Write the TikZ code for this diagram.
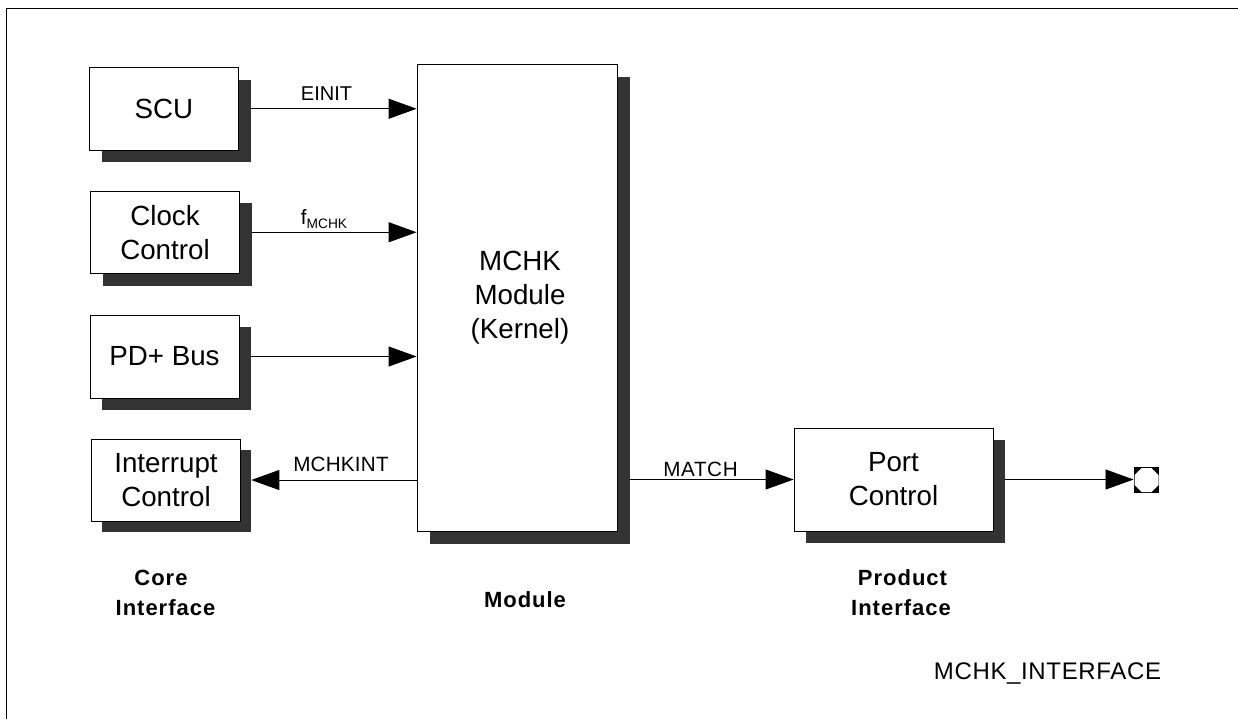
\documentclass[tikz,border=0pt]{standalone}
\usepackage{fontspec}
\setmainfont{Liberation Sans}
\usetikzlibrary{arrows.meta,calc,shapes.geometric}
\tikzset{
  x=0.75pt,y=-0.75pt,
  boxnode/.style={draw=black,fill=white,line width=0.6pt,align=center,inner sep=0pt,font=\fontsize{20.8}{25.5}\selectfont},
  shadownode/.style={fill=black!80,draw=none,inner sep=0pt},
  link/.style={draw=black,line width=0.6pt,-{Triangle[length=21pt,width=15pt]}},
  siglabel/.style={font=\fontsize{15.5}{17}\selectfont,inner sep=0pt},
  headlabel/.style={font=\fontsize{16.5}{22.5}\selectfont\bfseries\addfontfeatures{LetterSpace=4.5},inner sep=0pt},
}
\newcommand{\blockbox}[7]{% name, x1,y1,x2,y2, dx, text
  \node[shadownode,minimum width={(#4-#2)*0.75pt},minimum height={(#5-#3)*0.75pt}] (#1s) at ({(#2+#4)/2+#6},{(#3+#5)/2+#6}) {};
  \node[boxnode,minimum width={(#4-#2)*0.75pt},minimum height={(#5-#3)*0.75pt}] (#1) at ({(#2+#4)/2},{(#3+#5)/2}) {#7};
}
\begin{document}
\begin{tikzpicture}
\useasboundingbox (0,0) rectangle (1238,719);
\draw[line width=0.75pt] (6,719) -- (6,8) -- (1238,8);
\blockbox{scu}{89.5}{67.5}{238.5}{150}{12}{SCU}
\blockbox{clk}{90.5}{191}{239.5}{273.5}{12}{Clock\\Control}
\blockbox{pd}{90}{315}{239}{398}{12}{PD+ Bus}
\blockbox{irq}{91.5}{439}{240.5}{521}{10.5}{Interrupt\\Control}
\blockbox{mchk}{417}{64}{617}{531}{12.5}{}
\node[font=\fontsize{20.8}{25.5}\selectfont,align=center,inner sep=0pt] (mchktext) at (520,298) {MCHK\\Module\\(Kernel)};
\blockbox{port}{794}{428}{993}{531}{12}{Port\\Control}
\node[fill=black,draw=none,minimum size=19pt,inner sep=0pt] (pin) at (1146.5,480) {};
\node[regular polygon,regular polygon sides=8,fill=white,draw=none,minimum size=19.5pt,inner sep=0pt] (pinhole) at (pin.center) {};
\draw[link] (scus.east |- scu.east) -- (mchk.west |- scu.east);
\draw[link] (clks.east |- clk.east) -- (mchk.west |- clk.east);
\draw[link] (pds.east |- pd.east) -- (mchk.west |- pd.east);
\draw[link] (mchk.west |- irq.east) -- (irqs.east |- irq.east);
\draw[link] (mchks.east |- port.west) -- (port.west);
\draw[link] (ports.east |- port.east) -- (pin.west |- port.east);
\node[siglabel,font=\fontsize{15}{17}\selectfont] (l1) at (326.5,93.5) {EINIT};
\node[siglabel] (l2) at (324,219) {f\raisebox{-0.4ex}{\fontsize{10.3}{11}\selectfont MCHK}};
\node[siglabel,font=\fontsize{15.5}{17}\selectfont\addfontfeatures{LetterSpace=1}] (l3) at (341,464.5) {MCHKINT};
\node[siglabel,font=\fontsize{15.5}{17}\selectfont\addfontfeatures{LetterSpace=3}] (l4) at (700.5,469.5) {MATCH};
\node[headlabel] (h1a) at (161,578) {Core};
\node[headlabel] (h1b) at (165.5,608) {Interface};
\node[headlabel] (h2) at (525,600) {Module};
\node[headlabel] (h3a) at (902.5,578) {Product};
\node[headlabel] (h3b) at (901,608) {Interface};
\node[font=\fontsize{18}{20}\selectfont\addfontfeatures{LetterSpace=2.7},inner sep=0pt] (tag) at (1047.5,673) {MCHK\_INTERFACE};
\end{tikzpicture}
\end{document}
